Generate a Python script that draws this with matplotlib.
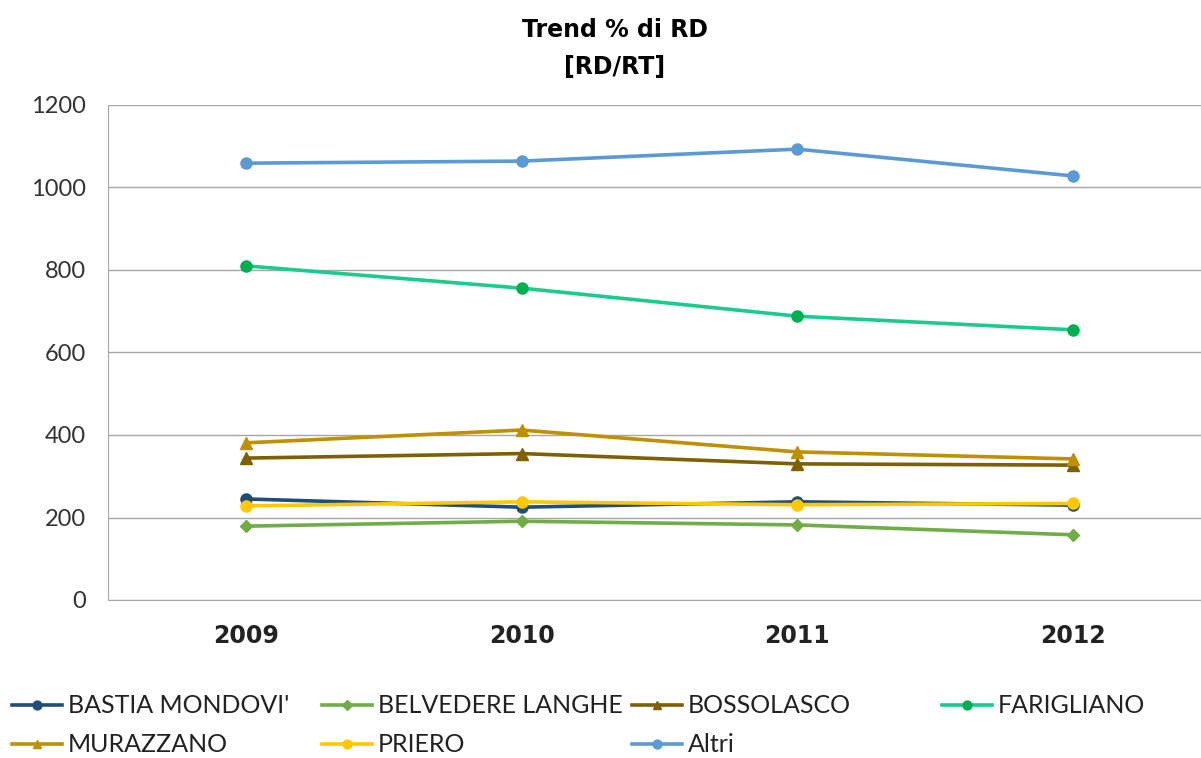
import matplotlib
matplotlib.use("Agg")
import matplotlib.pyplot as plt

# dati
anni = ["2009", "2010", "2011", "2012"]
bastia = [245, 225, 238, 230]
belvedere = [179, 191, 182, 158]
bossolasco = [344, 355, 330, 327]
farigliano = [810, 756, 688, 655]
murazzano = [381, 412, 359, 342]
priero = [228, 238, 231, 234]
altri = [1059, 1064, 1093, 1028]

serie = [
    ("BASTIA MONDOVI'", bastia, "#1F4E79", "#1F4E79", "o"),
    ("BELVEDERE LANGHE", belvedere, "#70AD47", "#70AD47", "D"),
    ("BOSSOLASCO", bossolasco, "#7F6000", "#7F6000", "^"),
    ("FARIGLIANO", farigliano, "#1ACC8C", "#00B050", "o"),
    ("MURAZZANO", murazzano, "#BF9000", "#BF9000", "^"),
    ("PRIERO", priero, "#FFC800", "#FFC800", "o"),
    ("Altri", altri, "#5B9BD5", "#5B9BD5", "o"),
]

plt.rcParams['font.family'] = ['Lato', 'DejaVu Sans']

fig = plt.figure(figsize=(12.01, 7.58), dpi=100)
ax = fig.add_axes([108 / 1201, 1 - 600 / 758, (1211 - 108) / 1201, (600 - 105) / 758])

x = list(range(len(anni)))
linee = []
for nome, vals, col, mcol, mk in serie:
    ms = 6 if mk == "D" else 8
    l, = ax.plot(x, vals, color=col, lw=2.6, marker=mk, markersize=ms,
                 markerfacecolor=mcol, markeredgecolor=mcol, label=nome, zorder=3)
    linee.append(l)

ax.set_xlim(-0.5, 3.5)
ax.set_ylim(0, 1200)
ax.set_yticks(range(0, 1201, 200))
ax.set_xticks(x)
ax.set_xticklabels(anni, fontsize=17, fontweight='bold', color='#222222',
                   family='DejaVu Sans')
ax.tick_params(axis='y', labelsize=17, colors='#333333', length=0, pad=16)
ax.tick_params(axis='x', length=0, pad=17)
ax.grid(axis='y', color='#A6A6A6', lw=1)
ax.set_axisbelow(True)
for s in ['top', 'right']:
    ax.spines[s].set_visible(False)
ax.spines['left'].set_color('#A6A6A6')
ax.spines['bottom'].set_color('#A6A6A6')

fig.text(0.512, 1 - 30 / 758, "Trend % di RD", ha='center', va='center',
         fontsize=17, fontweight='bold', family='DejaVu Sans')
fig.text(0.512, 1 - 67 / 758, "[RD/RT]", ha='center', va='center',
         fontsize=17, fontweight='bold', family='DejaVu Sans')

# legenda: 4 colonne a passo fisso, riempita per righe
colonne = [[0, 4], [1, 5], [2, 6], [3]]
for i, idx in enumerate(colonne):
    leg = fig.legend([linee[k] for k in idx], [serie[k][0] for k in idx],
                     loc='upper left', bbox_to_anchor=((12 + 310 * i) / 1201, 0.084),
                     frameon=False, fontsize=18, handlelength=2.0, handletextpad=0.25,
                     labelspacing=0.64, borderpad=0, borderaxespad=0, markerscale=0.8)
    for t in leg.get_texts():
        t.set_color('#222222')

fig.savefig("out.png", dpi=100)
